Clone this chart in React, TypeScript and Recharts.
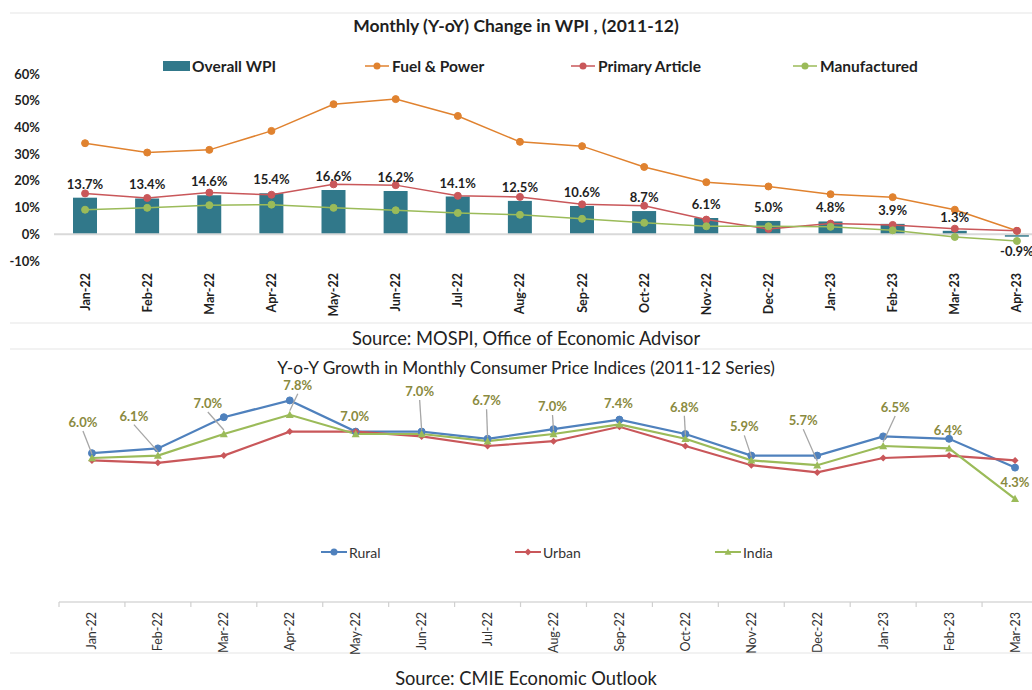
import React from 'react';
import { ComposedChart, LineChart, Bar, Line, XAxis, YAxis, ReferenceLine, LabelList, Legend } from 'recharts';

// ---------- WPI chart data ----------
const wpiMonths = ['Jan-22', 'Feb-22', 'Mar-22', 'Apr-22', 'May-22', 'Jun-22', 'Jul-22', 'Aug-22', 'Sep-22', 'Oct-22', 'Nov-22', 'Dec-22', 'Jan-23', 'Feb-23', 'Mar-23', 'Apr-23'];
const overallWpi = [13.7, 13.4, 14.6, 15.4, 16.6, 16.2, 14.1, 12.5, 10.6, 8.7, 6.1, 5.0, 4.8, 3.9, 1.3, -0.9];
const fuelPower = [34.1, 30.6, 31.6, 38.7, 48.7, 50.6, 44.3, 34.6, 33.0, 25.2, 19.5, 17.9, 15.0, 13.9, 9.2, 1.3];
const primaryArticle = [15.3, 13.6, 15.6, 14.8, 18.7, 18.4, 14.4, 14.0, 11.2, 10.7, 5.5, 2.0, 4.0, 3.5, 2.1, 1.3];
const manufactured = [9.2, 9.9, 10.9, 11.1, 9.9, 9.0, 8.0, 7.3, 5.8, 4.3, 3.0, 3.0, 2.8, 1.5, -1.0, -2.5];
const wpiTicks = [-10, 0, 10, 20, 30, 40, 50, 60];

// ---------- CPI chart data ----------
const cpiMonths = ['Jan-22', 'Feb-22', 'Mar-22', 'Apr-22', 'May-22', 'Jun-22', 'Jul-22', 'Aug-22', 'Sep-22', 'Oct-22', 'Nov-22', 'Dec-22', 'Jan-23', 'Feb-23', 'Mar-23'];
const rural = [6.2, 6.4, 7.7, 8.4, 7.1, 7.1, 6.8, 7.2, 7.6, 7.0, 6.1, 6.1, 6.9, 6.8, 5.6];
const urban = [5.9, 5.8, 6.1, 7.1, 7.1, 6.9, 6.5, 6.7, 7.3, 6.5, 5.7, 5.4, 6.0, 6.1, 5.9];
const india = [6.0, 6.1, 7.0, 7.8, 7.0, 7.0, 6.7, 7.0, 7.4, 6.8, 5.9, 5.7, 6.5, 6.4, 4.3];

// label placement for India values: [dx, dy, leader line]
const indiaLabelOffsets: number[][] = [
  [-9, -36, 1], [-24, -40, 1], [-16, -31, 1], [8, -30, 1], [-1, -18, 0], [-2, -43, 1], [-1, -41, 1], [-1, -28, 1],
  [-1, -21, 0], [-1, -32, 1], [-7, -34, 1], [-14, -45, 1], [12, -39, 1], [-1, -18, 0], [0, -17, 0],
];

const TEAL = '#31788A';
const ORANGE = '#E0822F';
const RED = '#C9575A';
const GREEN = '#9BBB59';
const BLUE = '#4F81BD';
const OLIVE = '#8A8A40';
const DARK = '#1f1f1f';
const FONT = 'Lato, "Open Sans", sans-serif';

const CPI_PLOT_LEFT = 59;
const CPI_PLOT_WIDTH = 989;
const CPI_HALF_BAND = CPI_PLOT_WIDTH / cpiMonths.length / 2;

const wpiData = wpiMonths.map((m, i) => ({
  month: m,
  overall: overallWpi[i],
  fuel: fuelPower[i],
  primary: primaryArticle[i],
  manufactured: manufactured[i],
}));

const cpiData = cpiMonths.map((m, i) => ({ month: m, rural: rural[i], urban: urban[i], india: india[i] }));

const wpiLegendX: Record<string, number> = { overall: 163, fuel: 365, primary: 571, manufactured: 793 };
const cpiLegendX: Record<string, number> = { rural: 321, urban: 515, india: 715 };

const BarValueLabel = (props: any) => {
  const vb = props.viewBox || {};
  const x = props.x ?? vb.x;
  const y = props.y ?? vb.y;
  const w = props.width ?? vb.width;
  const h = props.height ?? vb.height;
  const v = Number(props.value);
  const top = Math.min(y, y + h);
  const bottom = Math.max(y, y + h);
  const ty = v < 0 ? bottom + 14 : top - 14;
  return (
    <text x={x + w / 2} y={ty} textAnchor="middle" dominantBaseline="central" fontSize={13} fontWeight={700} fill={DARK} fontFamily={FONT}>
      {v.toFixed(1)}%
    </text>
  );
};

const WpiTick = (props: any) => {
  const { x, y, payload } = props;
  return (
    <text x={x} y={y} transform={`rotate(-90, ${x}, ${y})`} textAnchor="end" dominantBaseline="central" fontSize={12.5} fontWeight={700} fill={DARK} fontFamily={FONT}>
      {payload.value}
    </text>
  );
};

const CpiTick = (props: any) => {
  const { x, y, payload, index } = props;
  const half = CPI_HALF_BAND;
  const axisY = y - 10;
  return (
    <g>
      <line x1={x - half} x2={x - half} y1={axisY} y2={axisY + 5} stroke="#d0d0d0" strokeWidth={1.2} />
      {index === cpiMonths.length - 1 ? <line x1={x + half} x2={x + half} y1={axisY} y2={axisY + 5} stroke="#d0d0d0" strokeWidth={1.2} /> : null}
      <text x={x} y={y} transform={`rotate(-90, ${x}, ${y})`} textAnchor="end" dominantBaseline="central" fontSize={12.5} fill="#333" fontFamily={FONT}>
        {payload.value}
      </text>
    </g>
  );
};

const WpiLegend = (props: any) => {
  const payload = props.payload || [];
  return (
    <svg width={1060} height={20} style={{ display: 'block' }}>
      {payload.map((p: any) => {
        const x = wpiLegendX[p.dataKey as string] ?? 0;
        const isRect = p.dataKey === 'overall';
        return (
          <g key={String(p.dataKey)}>
            {isRect ? (
              <rect x={x} y={5} width={27} height={10} fill={p.color} />
            ) : (
              <g>
                <line x1={x} x2={x + 24} y1={10} y2={10} stroke={p.color} strokeWidth={1.5} />
                <circle cx={x + 12} cy={10} r={3.5} fill={p.color} />
              </g>
            )}
            <text x={isRect ? x + 29 : x + 27} y={10} dominantBaseline="central" fontSize={15.5} fontWeight={700} fill={DARK} fontFamily={FONT}>
              {p.value}
            </text>
          </g>
        );
      })}
    </svg>
  );
};

const diamond = (cx: number, cy: number, s: number) => `M${cx},${cy - s} L${cx + s},${cy} L${cx},${cy + s} L${cx - s},${cy} Z`;
const triangle = (cx: number, cy: number, s: number) => `M${cx},${cy - s} L${cx + s},${cy + s * 0.8} L${cx - s},${cy + s * 0.8} Z`;

const CpiLegend = (props: any) => {
  const payload = props.payload || [];
  return (
    <svg width={1060} height={20} style={{ display: 'block' }}>
      {payload.map((p: any) => {
        const x = cpiLegendX[p.dataKey as string] ?? 0;
        const k = p.dataKey as string;
        return (
          <g key={k}>
            <line x1={x} x2={x + 26} y1={10} y2={10} stroke={p.color} strokeWidth={2} />
            {k === 'rural' ? <circle cx={x + 13} cy={10} r={3.5} fill={p.color} /> : null}
            {k === 'urban' ? <path d={diamond(x + 13, 10, 3.5)} fill={p.color} /> : null}
            {k === 'india' ? <path d={triangle(x + 13, 10, 3.5)} fill={p.color} /> : null}
            <text x={x + 28} y={10} dominantBaseline="central" fontSize={14} fill="#333" fontFamily={FONT}>
              {p.value}
            </text>
          </g>
        );
      })}
    </svg>
  );
};

const UrbanDot = (p: any) => <path key={`u-${p.index}`} d={diamond(p.cx, p.cy, 3.5)} fill={RED} />;
const IndiaDot = (p: any) => <path key={`i-${p.index}`} d={triangle(p.cx, p.cy, 4)} fill={GREEN} />;

const IndiaLabel = (props: any) => {
  const vb = props.viewBox || {};
  const px = props.x ?? vb.x;
  const py = props.y ?? vb.y;
  const idx = typeof props.index === 'number' ? props.index : Math.round((px - CPI_PLOT_LEFT) / (2 * CPI_HALF_BAND) - 0.5);
  const off = indiaLabelOffsets[idx] || [0, -18, 0];
  const lx = px + off[0];
  const ly = py + off[1];
  return (
    <g>
      {off[2] ? <line x1={lx} y1={ly + 9} x2={px} y2={py - 4} stroke="#a6a6a6" strokeWidth={1.3} /> : null}
      <text x={lx} y={ly} textAnchor="middle" dominantBaseline="central" fontSize={13} fontWeight={700} fill={OLIVE} fontFamily={FONT}>
        {Number(props.value).toFixed(1)}%
      </text>
    </g>
  );
};

const Centered = ({ cx, cy, size, bold, children }: any) => (
  <div
    style={{
      position: 'absolute',
      left: cx - 450,
      width: 900,
      top: cy - 10,
      height: 20,
      lineHeight: '20px',
      textAlign: 'center',
      fontSize: size,
      fontWeight: bold ? 700 : 400,
      color: bold ? DARK : '#222',
      fontFamily: FONT,
      whiteSpace: 'nowrap',
    }}
  >
    {children}
  </div>
);

const Sep = ({ y }: any) => <div style={{ position: 'absolute', left: 10, top: y - 1, width: 1022, height: 2, background: '#f2f2f2' }} />;

export default function App() {
  return (
    <div style={{ position: 'absolute', left: 0, top: 0, width: 1032, height: 690, overflow: 'hidden', background: '#fff', fontFamily: FONT }}>
      <Sep y={13} />
      <Sep y={323} />
      <Sep y={349} />
      <Sep y={653} />
      <Centered cx={516} cy={26} size={17.5} bold>
        Monthly (Y-oY) Change in WPI , (2011-12)
      </Centered>
      <div style={{ position: 'absolute', left: 0, top: 0 }}>
        <ComposedChart width={1060} height={330} data={wpiData} margin={{ top: 74, right: 12, left: 10, bottom: 9 }}>
          <XAxis dataKey="month" interval={0} height={60} tickSize={0} tickMargin={12} axisLine={false} tickLine={false} tick={<WpiTick />} />
          <YAxis
            width={44}
            domain={[-10, 60]}
            ticks={wpiTicks}
            interval={0}
            tickFormatter={(v: number) => `${v}%`}
            axisLine={false}
            tickLine={false}
            tickSize={0}
            tickMargin={14}
            tick={{ fontSize: 13, fontWeight: 700, fill: DARK, fontFamily: FONT }}
          />
          <ReferenceLine y={0} stroke="#d9d9d9" strokeWidth={2} />
          <Legend layout="horizontal" verticalAlign="middle" align="center" wrapperStyle={{ top: 56, left: 0, width: 1060, height: 20 }} content={<WpiLegend />} />
          <Bar dataKey="overall" name="Overall WPI" fill={TEAL} barSize={24} isAnimationActive={false}>
            <LabelList dataKey="overall" content={<BarValueLabel />} />
          </Bar>
          <Line dataKey="fuel" name="Fuel & Power" stroke={ORANGE} strokeWidth={1.5} dot={{ r: 3.5, fill: ORANGE, stroke: ORANGE, strokeWidth: 1 }} activeDot={false} isAnimationActive={false} />
          <Line dataKey="primary" name="Primary Article" stroke={RED} strokeWidth={1.5} dot={{ r: 3.5, fill: RED, stroke: RED, strokeWidth: 1 }} activeDot={false} isAnimationActive={false} />
          <Line dataKey="manufactured" name="Manufactured" stroke={GREEN} strokeWidth={1.5} dot={{ r: 3.5, fill: GREEN, stroke: GREEN, strokeWidth: 1 }} activeDot={false} isAnimationActive={false} />
        </ComposedChart>
      </div>
      <Centered cx={526} cy={338} size={18.3}>
        Source: MOSPI, Office of Economic Advisor
      </Centered>
      <Centered cx={526} cy={368} size={17.2}>
        Y-o-Y Growth in Monthly Consumer Price Indices (2011-12 Series)
      </Centered>
      <div style={{ position: 'absolute', left: 0, top: 320 }}>
        <LineChart width={1060} height={370} data={cpiData} margin={{ top: 42, right: 12, left: CPI_PLOT_LEFT, bottom: 38 }}>
          <XAxis
            dataKey="month"
            interval={0}
            height={50}
            padding={{ left: CPI_HALF_BAND, right: CPI_HALF_BAND }}
            tickSize={0}
            tickMargin={10}
            axisLine={{ stroke: '#d9d9d9', strokeWidth: 1.5 }}
            tickLine={false}
            tick={<CpiTick />}
          />
          <YAxis hide domain={[0, 10]} />
          <Legend layout="horizontal" verticalAlign="middle" align="center" wrapperStyle={{ top: 222, left: 0, width: 1060, height: 20 }} content={<CpiLegend />} />
          <Line dataKey="rural" name="Rural" stroke={BLUE} strokeWidth={2.2} dot={{ r: 3.5, fill: BLUE, stroke: BLUE, strokeWidth: 1 }} activeDot={false} isAnimationActive={false} />
          <Line dataKey="urban" name="Urban" stroke={RED} strokeWidth={2.2} dot={UrbanDot} activeDot={false} isAnimationActive={false} />
          <Line dataKey="india" name="India" stroke={GREEN} strokeWidth={2.2} dot={IndiaDot} activeDot={false} isAnimationActive={false}>
            <LabelList dataKey="india" content={<IndiaLabel />} />
          </Line>
        </LineChart>
      </div>
      <Centered cx={526} cy={678} size={18.3}>
        Source: CMIE Economic Outlook
      </Centered>
    </div>
  );
}
